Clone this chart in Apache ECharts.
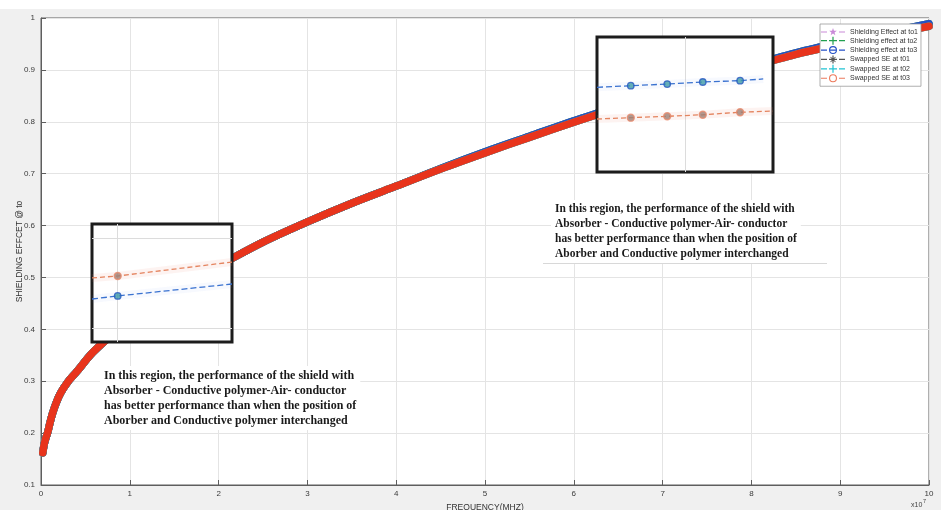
<!DOCTYPE html>
<html>
<head>
<meta charset="utf-8">
<title>Shielding effect vs frequency</title>
<script src="https://cdn.jsdelivr.net/npm/echarts/dist/echarts.min.js"></script>
<style>
  html, body { margin: 0; padding: 0; background: #f0f0f0; }
  #chart { width: 941px; height: 510px; }
</style>
</head>
<body>
<div id="chart"></div>
<script>
// Frequency samples (Hz) and shielding effectiveness for both layer orders
const freqHz = [2e5, 3.5e5, 5e5, 7.5e5, 1e6, 1.3e6, 1.7e6, 2.2e6, 3e6, 4e6, 5.8e6, 8e6, 1e7, 1.3e7, 1.6e7, 2e7,
  2.5e7, 3e7, 3.5e7, 4e7, 4.5e7, 5e7, 5.5e7, 6e7, 6.5e7, 7e7, 7.5e7, 8e7, 8.5e7, 9e7, 9.5e7, 1e8];
const shieldSE = [0.162, 0.178, 0.188, 0.201, 0.219, 0.238, 0.258, 0.277, 0.298, 0.318, 0.355, 0.390, 0.420, 0.457, 0.488, 0.523,
  0.568, 0.607, 0.643, 0.676, 0.710, 0.742, 0.772, 0.802, 0.830, 0.857, 0.883, 0.909, 0.933, 0.953, 0.971, 0.989];
const swappedSE = [0.162, 0.178, 0.188, 0.201, 0.219, 0.238, 0.258, 0.277, 0.298, 0.318, 0.355, 0.390, 0.420, 0.457, 0.488, 0.523,
  0.568, 0.607, 0.643, 0.676, 0.709, 0.740, 0.770, 0.799, 0.827, 0.854, 0.880, 0.906, 0.930, 0.949, 0.967, 0.984];

// Magnified view, low-frequency region
const insetLX = [0.57e7, 0.86e7, 2.15e7];
const insetLSwapped = [0.4556, 0.4578, 0.4733];
const insetLShield = [0.4322, 0.4356, 0.4489];
const insetLMarkIdx = [1];
const insetLGridX = [0.86e7];
const insetLGridY = [0.4, 0.5];

// Magnified view, high-frequency region
const insetRX = [6.23e7, 6.61e7, 7.02e7, 7.42e7, 7.84e7, 8.21e7];
const insetRSwapped = [0.8271, 0.8283, 0.8295, 0.8309, 0.8331, 0.8342];
const insetRShieldX = [6.23e7, 6.61e7, 7.02e7, 7.42e7, 7.84e7, 8.10e7];
const insetRShield = [0.8553, 0.8567, 0.8582, 0.8600, 0.8612, 0.8627];
const insetRMarkIdx = [1, 2, 3, 4];
const insetRGridX = [7.22e7];

const yTicks = [0.1, 1, 0.1]; // min, max, step
const xTicks = [0, 1e8, 1e7];

const seriesNames = ['Shielding Effect at to1', 'Shielding effect at to2', 'Shielding effect at to3',
  'Swapped SE at t01', 'Swapped SE at t02', 'Swapped SE at t03'];
const seriesColors = ['#c98ad8', '#22a050', '#2450c8', '#555555', '#22c4d4', '#e8341c'];
const legendColors = ['#c98ad8', '#22a050', '#2450c8', '#555555', '#22c4d4', '#ec7a5c'];

const zip = (xs, ys) => xs.map((x, i) => [x, ys[i]]);
const pick = (xs, ys, idx) => idx.map(i => [xs[i], ys[i]]);

// legend glyphs: dash, marker, dash
const dashes = 'M0,3.4 h6 v1.2 h-6 z M18,3.4 h6 v1.2 h-6 z ';
const ring = 'M8,4 A4,4 0 1,1 16,4 A4,4 0 1,1 8,4 Z M9.1,4 A2.9,2.9 0 1,0 14.9,4 A2.9,2.9 0 1,0 9.1,4 Z ';
const plus = 'M11.4,0 h1.2 v8 h-1.2 z M8,3.4 h8 v1.2 h-8 z ';
const star = 'M12,0 L12.94,2.71 L15.8,2.76 L13.52,4.49 L14.35,7.24 L12,5.6 L9.65,7.24 L10.48,4.49 L8.2,2.76 L11.06,2.71 Z ';
const asterisk = plus + 'M9.2,1.8 L9.8,1.2 L14.8,6.2 L14.2,6.8 Z M14.8,1.8 L9.8,6.8 L9.2,6.2 L14.2,1.2 Z ';
const legendIcons = [
  'path://' + dashes + star,
  'path://' + dashes + plus,
  'path://' + dashes + ring + 'M9.1,3.4 h5.8 v1.2 h-5.8 z',
  'path://' + dashes + asterisk,
  'path://' + dashes + plus,
  'path://' + dashes + ring
];

const mainSeries = seriesNames.map((name, i) => ({
  name: name,
  type: 'line',
  xAxisIndex: 0, yAxisIndex: 0,
  data: zip(freqHz, i < 3 ? shieldSE : swappedSE),
  symbol: 'none',
  smooth: 0.3,
  silent: true,
  lineStyle: { width: 7.5, color: seriesColors[i], cap: 'round', join: 'round' },
  itemStyle: { color: seriesColors[i] },
  z: 2
}));

function insetSeries(ax, lineSwp, lineShd, markSwp, markShd, gridMarks) {
  const base = { xAxisIndex: ax, yAxisIndex: ax, silent: true, animation: false };
  return [
    Object.assign({}, base, {
      type: 'line', data: lineSwp, symbol: 'none', z: 11,
      lineStyle: { color: 'rgba(240,140,120,0.10)', width: 8 },
      markLine: {
        silent: true, symbol: ['none', 'none'], label: { show: false }, z: 11,
        lineStyle: { color: '#dcdcdc', type: 'solid', width: 1 },
        data: gridMarks
      }
    }),
    Object.assign({}, base, {
      type: 'line', data: lineShd, symbol: 'none', z: 11,
      lineStyle: { color: 'rgba(120,150,230,0.06)', width: 8 }
    }),
    Object.assign({}, base, {
      type: 'line', data: lineSwp, symbol: 'none', z: 12,
      lineStyle: { color: '#e4845f', width: 1.3, type: [5, 3] }
    }),
    Object.assign({}, base, {
      type: 'line', data: lineShd, symbol: 'none', z: 12,
      lineStyle: { color: '#3a72d0', width: 1.3, type: [6, 3] }
    }),
    Object.assign({}, base, {
      type: 'scatter', data: markSwp, symbol: 'circle', symbolSize: 7, z: 13,
      itemStyle: { color: '#9c7f76', borderColor: '#e8896b', borderWidth: 1.4 }
    }),
    Object.assign({}, base, {
      type: 'scatter', data: markShd, symbol: 'circle', symbolSize: 6.5, z: 13,
      itemStyle: { color: '#3e9aa6', borderColor: '#2456c0', borderWidth: 1.3 }
    })
  ];
}

const leftGridMarks = insetLGridX.map(v => ({ xAxis: v })).concat(insetLGridY.map(v => ({ yAxis: v })));
const rightGridMarks = insetRGridX.map(v => ({ xAxis: v }));

const insetL = insetSeries(1,
  zip(insetLX, insetLSwapped), zip(insetLX, insetLShield),
  pick(insetLX, insetLSwapped, insetLMarkIdx), pick(insetLX, insetLShield, insetLMarkIdx),
  leftGridMarks);
const insetR = insetSeries(2,
  zip(insetRX, insetRSwapped), zip(insetRShieldX, insetRShield),
  pick(insetRX, insetRSwapped, insetRMarkIdx), pick(insetRShieldX, insetRShield, insetRMarkIdx),
  rightGridMarks);

const noteText = [
  'In this region, the performance of the shield with',
  'Absorber - Conductive polymer-Air- conductor',
  'has better performance than when the position of',
  'Aborber and Conductive polymer interchanged'
].join('\n');

const axisLabelStyle = { fontSize: 8, color: '#3a3a3a', fontFamily: 'Liberation Sans, Arial, sans-serif' };

const option = {
  backgroundColor: '#f0f0f0',
  animation: false,
  textStyle: { fontFamily: 'Liberation Sans, Arial, sans-serif' },
  grid: [
    { left: 41, top: 18, width: 888, height: 467, show: true, backgroundColor: '#ffffff',
      borderColor: '#5e5e5e', borderWidth: 1, containLabel: false, outerBoundsMode: 'none' },
    { left: 92, top: 224, width: 140, height: 118, show: true, backgroundColor: '#ffffff',
      borderColor: '#1c1c1c', borderWidth: 3, z: 10, outerBoundsMode: 'none' },
    { left: 597, top: 37, width: 176, height: 135, show: true, backgroundColor: '#ffffff',
      borderColor: '#1c1c1c', borderWidth: 3, z: 10, outerBoundsMode: 'none' }
  ],
  xAxis: [
    { gridIndex: 0, type: 'value', min: xTicks[0], max: xTicks[1], interval: xTicks[2],
      name: 'FREQUENCY(MHZ)', nameLocation: 'middle', nameGap: 16,
      nameTextStyle: { fontSize: 8.5, color: '#333' },
      axisLine: { show: true, lineStyle: { color: '#5e5e5e', width: 1 } },
      axisTick: { show: true, inside: true, length: 5, lineStyle: { color: '#5e5e5e' } },
      axisLabel: Object.assign({ margin: 5, formatter: v => String(Math.round(v / 1e7)) }, axisLabelStyle),
      splitLine: { show: true, lineStyle: { color: '#e4e4e4', width: 1 } } },
    { gridIndex: 1, type: 'value', min: insetLX[0], max: insetLX[insetLX.length - 1], show: false },
    { gridIndex: 2, type: 'value', min: insetRX[0], max: insetRX[insetRX.length - 1], show: false }
  ],
  yAxis: [
    { gridIndex: 0, type: 'value', min: yTicks[0], max: yTicks[1], interval: yTicks[2],
      name: 'SHIELDING EFFCET @ to', nameLocation: 'middle', nameGap: 17, nameMoveOverlap: false,
      nameTextStyle: { fontSize: 8.5, color: '#333' },
      axisLine: { show: true, lineStyle: { color: '#5e5e5e', width: 1 } },
      axisTick: { show: true, inside: true, length: 5, lineStyle: { color: '#5e5e5e' } },
      axisLabel: Object.assign({ margin: 6, formatter: v => String(Math.round(v * 10) / 10) }, axisLabelStyle),
      splitLine: { show: true, lineStyle: { color: '#e4e4e4', width: 1 } } },
    { gridIndex: 1, type: 'value', min: 0.3844, max: 0.5156, show: false },
    { gridIndex: 2, type: 'value', min: 0.78, max: 0.90, show: false }
  ],
  legend: {
    data: seriesNames.map((n, i) => ({ name: n, icon: legendIcons[i],
      itemStyle: { color: legendColors[i], borderWidth: 0 } })),
    orient: 'vertical',
    left: 820, top: 24,
    itemWidth: 24, itemHeight: 8, itemGap: 1.4,
    padding: [4, 3, 4, 1],
    backgroundColor: '#ffffff',
    borderColor: '#9a9a9a', borderWidth: 0.8,
    itemStyle: { borderWidth: 0 },
    lineStyle: { width: 0 },
    textStyle: { fontSize: 7, color: '#333' },
    selectedMode: false
  },
  series: mainSeries.concat(insetL, insetR),
  graphic: [
    { type: 'rect', shape: { x: 0, y: 0, width: 941, height: 9 }, style: { fill: '#ffffff' }, silent: true, z: 0 },
    { type: 'text', z: 5, silent: true,
      style: { x: 100, y: 366, text: noteText, fontFamily: 'Liberation Serif, Times New Roman, serif',
        fontWeight: 'bold', fontSize: 12, lineHeight: 15, fill: '#1a1a1a',
        backgroundColor: '#ffffff', padding: [2, 4, 2, 4] } },
    { type: 'text', z: 5, silent: true,
      style: { x: 551, y: 200, text: noteText, fontFamily: 'Liberation Serif, Times New Roman, serif',
        fontWeight: 'bold', fontSize: 11.5, lineHeight: 14.8, fill: '#1a1a1a',
        backgroundColor: '#ffffff', padding: [2, 4, 2, 4] } },
    { type: 'line', z: 5, silent: true, shape: { x1: 543, y1: 263.5, x2: 827, y2: 263.5 },
      style: { stroke: '#d8d8d8', lineWidth: 1 } },
    { type: 'text', z: 5, silent: true,
      style: { x: 911, y: 502, text: 'x10', fontSize: 7, fill: '#444' } },
    { type: 'text', z: 5, silent: true,
      style: { x: 923, y: 498, text: '7', fontSize: 5.5, fill: '#444' } }
  ]
};

const chart = echarts.init(document.getElementById('chart'), null, { renderer: 'canvas' });
chart.setOption(option);
</script>
</body>
</html>
